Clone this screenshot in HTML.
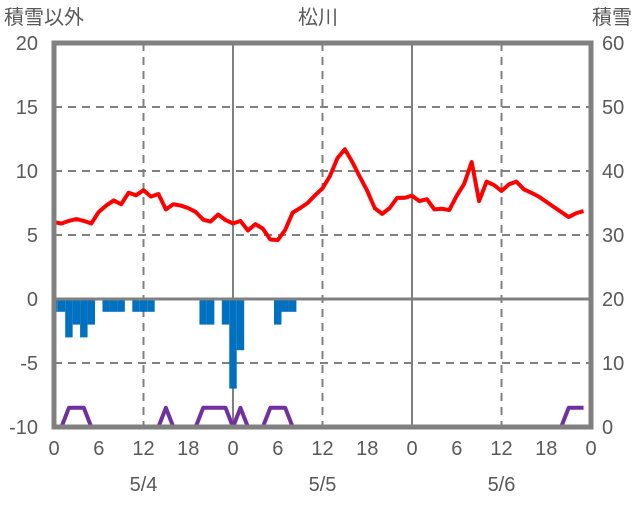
<!DOCTYPE html>
<html><head><meta charset="utf-8"><style>
html,body{margin:0;padding:0;background:#fff;}
svg text{font-family:"Liberation Sans","Noto Sans CJK JP",sans-serif;fill:#595959;font-size:20px;}
</style></head><body>
<svg id="chart" width="636" height="501" viewBox="0 0 636 501" xmlns="http://www.w3.org/2000/svg">
<g id="grid"></g>
<g id="bars"></g>
<g id="lines"></g>
<g id="frame"></g>
<g id="labels">
<text x="4" y="24">積雪以外</text>
<text x="318" y="24" text-anchor="middle">松川</text>
<text x="632" y="24" text-anchor="end">積雪</text>
</g>
</svg>
<script>
const temps=[6.0,5.9,6.1,6.25,6.1,5.9,6.8,7.3,7.7,7.4,8.3,8.1,8.5,8.0,8.2,7.0,7.4,7.3,7.1,6.8,6.2,6.05,6.6,6.17,5.9,6.1,5.35,5.85,5.5,4.65,4.6,5.4,6.75,7.1,7.5,8.1,8.65,9.6,11.0,11.7,10.7,9.55,8.45,7.1,6.65,7.1,7.9,7.9,8.07,7.65,7.8,7.0,7.05,6.95,8.07,9.0,10.7,7.65,9.17,8.9,8.44,8.96,9.17,8.57,8.3,8.0,7.6,7.2,6.8,6.4,6.7,6.87];
const precip=[-1,-1,-3,-2,-3,-2,0,-1,-1,-1,0,-1,-1,-1,0,0,0,0,0,0,-2,-2,0,-2,-7,-4,0,0,0,0,-2,-1,-1];
const snow=[0,0,3,3,3,0,0,0,0,0,0,0,0,0,0,3,0,0,0,0,3,3,3,3,0,3,0,0,0,3,3,3,0,0,0,0,0,0,0,0,0,0,0,0,0,0,0,0,0,0,0,0,0,0,0,0,0,0,0,0,0,0,0,0,0,0,0,0,0,3,3,3];
const leftTicks=[20,15,10,5,0,-5,-10];
const rightTicks=[60,50,40,30,20,10,0];
const xTickLabels=["0","6","12","18","0","6","12","18","0","6","12","18","0"];
const dayLabels=["5/4","5/5","5/6"];
const X0=54,X1=591,Y0=43,Y1=427,HOURS=72;
const x=h=>X0+(X1-X0)*h/HOURS;
const yL=v=>Y1-(v+10)*(Y1-Y0)/30;
const yR=v=>Y1-v*(Y1-Y0)/60;
const NS="http://www.w3.org/2000/svg";
function mk(tag,attrs,parent){const e=document.createElementNS(NS,tag);for(const k in attrs)e.setAttribute(k,attrs[k]);parent.appendChild(e);return e;}
const grid=document.getElementById('grid'),bars=document.getElementById('bars'),lines=document.getElementById('lines'),frame=document.getElementById('frame'),labels=document.getElementById('labels');
leftTicks.forEach((v,i)=>{
  const y=yL(v);
  if(v!==20&&v!==-10&&v!==0){const l=mk('line',{x1:X0,x2:X1,y1:y,y2:y,stroke:'#808080','stroke-width':2,'stroke-dasharray':'8,6'},grid);
  
  }
  const t=mk('text',{x:38,y:y+7,'text-anchor':'end'},labels);t.textContent=v;
  
  
  const t2=mk('text',{x:602,y:y+7},labels);t2.textContent=rightTicks[i];
  
  
});
xTickLabels.forEach((s,i)=>{
  const h=i*6,xx=x(h);
  if(h>0&&h<72&&h%12===0){
    const solid=h%24===0;
    const l=mk('line',{x1:xx,x2:xx,y1:Y0,y2:Y1,stroke:'#808080','stroke-width':2},grid);
    if(!solid)l.setAttribute('stroke-dasharray','8,6');
    
    
  }
  const t=mk('text',{x:xx,y:455,'text-anchor':'middle'},labels);t.textContent=s;
  
  
});
dayLabels.forEach((s,i)=>{
  const t=mk('text',{x:x(12+24*i),y:491,'text-anchor':'middle'},labels);t.textContent=s;
  
  
});
const bw=(X1-X0)/HOURS;
precip.forEach((v,h)=>{
  if(v===0)return;
  let a=Math.max(X0,x(h)-bw/2),b=x(h)+bw/2;
  const r=mk('rect',{x:a,y:yL(0),width:b-a,height:yL(v)-yL(0),fill:'#0070C0'},bars);
  
  
});
const zl=mk('line',{x1:X0,x2:X1,y1:yL(0),y2:yL(0),stroke:'#808080','stroke-width':3},frame);


const tp=mk('polyline',{points:temps.map((v,h)=>x(h)+','+yL(v)).join(' '),fill:'none',stroke:'#FF0000','stroke-width':4,'stroke-linejoin':'round'},lines);


const sp=mk('polyline',{points:snow.map((v,h)=>x(h)+','+yR(v)).join(' '),fill:'none',stroke:'#7030A0','stroke-width':4,'stroke-linejoin':'round'},lines);


const fr=mk('rect',{x:X0,y:Y0,width:X1-X0,height:Y1-Y0,fill:'none',stroke:'#808080','stroke-width':5},frame);


</script>
</body></html>
